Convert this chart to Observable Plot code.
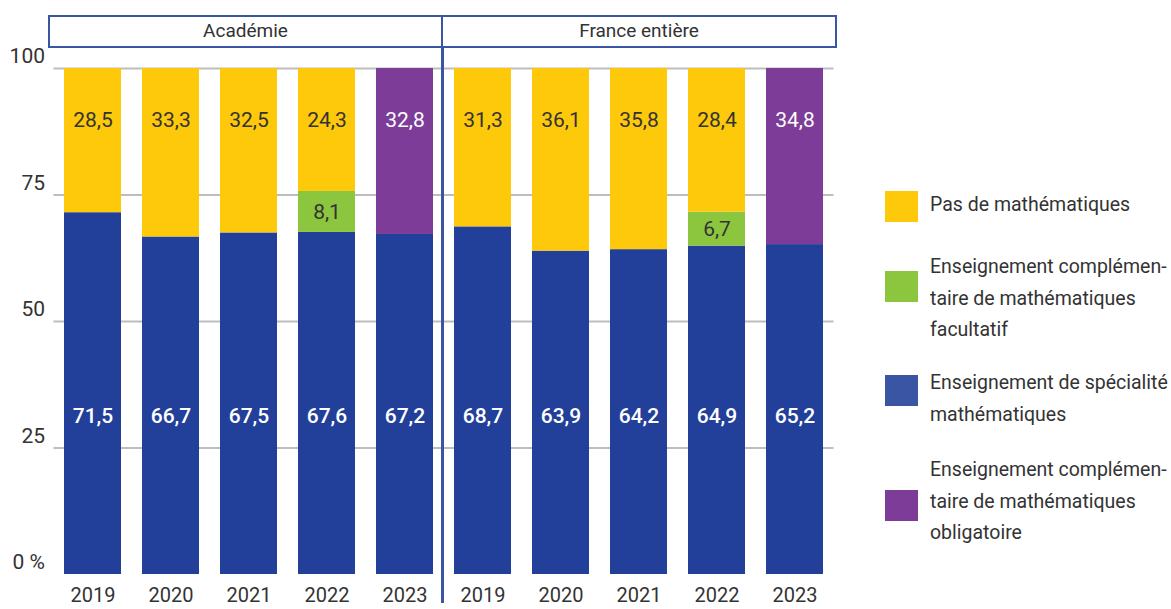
<!DOCTYPE html>
<html>
<head>
<meta charset="utf-8">
<script src="https://cdn.jsdelivr.net/npm/d3@7"></script>
<script src="https://cdn.jsdelivr.net/npm/@observablehq/plot@0.6"></script>
<style>
  html, body { margin: 0; padding: 0; background: #fff; }
  #wrap { position: relative; width: 1171px; height: 609px; overflow: hidden; font-family: Roboto, sans-serif; color: #333; }
  #wrap svg { position: absolute; left: 0; top: 0; }
  .hdr { position: absolute; top: 15px; height: 33px; box-sizing: border-box; border: 2.5px solid #3a55a4; background: #fff; text-align: center; font-size: 19px; line-height: 27px; color: #333; }
  .sep { position: absolute; left: 441px; top: 15px; width: 2.5px; height: 588px; background: #3a55a4; }
  .sw { position: absolute; left: 885px; width: 33px; height: 31px; }
  .lt { position: absolute; left: 930px; font-size: 19.5px; line-height: 31.5px; color: #333; white-space: nowrap; }
</style>
</head>
<body>
<div id="wrap"></div>
<script>
// ---- data ----
const years = ["2019", "2020", "2021", "2022", "2023"];
const zones = ["Académie", "France entière"];
const series = [
  "Enseignement de spécialité mathématiques",
  "Enseignement complémentaire de mathématiques facultatif",
  "Enseignement complémentaire de mathématiques obligatoire",
  "Pas de mathématiques"
];
const colors = ["#22409a", "#8cc63f", "#7d3c98", "#fec80b"];
const legendSwatch = ["#fec80b", "#8cc63f", "#3a55a4", "#7d3c98"];
const legendLabels = [
  "Pas de mathématiques",
  "Enseignement complémen-<br>taire de mathématiques<br>facultatif",
  "Enseignement de spécialité<br>mathématiques",
  "Enseignement complémen-<br>taire de mathématiques<br>obligatoire"
];
const specAcad  = [71.5, 66.7, 67.5, 67.6, 67.2];
const facAcad   = [0, 0, 0, 8.1, 0];
const oblAcad   = [0, 0, 0, 0, 32.8];
const pasAcad   = [28.5, 33.3, 32.5, 24.3, 0];
const specFr    = [68.7, 63.9, 64.2, 64.9, 65.2];
const facFr     = [0, 0, 0, 6.7, 0];
const oblFr     = [0, 0, 0, 0, 34.8];
const pasFr     = [31.3, 36.1, 35.8, 28.4, 0];
const yTicks = [0, 25, 50, 75, 100];

// ---- table ----
const byZone = [
  [specAcad, facAcad, oblAcad, pasAcad],
  [specFr, facFr, oblFr, pasFr]
];
const rows = [];
const keys = [];
zones.forEach((z, zi) => {
  years.forEach((yr, yi) => {
    const key = z + "|" + yr;
    keys.push(key);
    let base = 0;
    byZone[zi].forEach((arr, si) => {
      const v = arr[yi];
      if (v > 0) {
        rows.push({key, zone: z, year: yr, series: series[si], value: v, y1: base, y2: base + v, mid: base + v / 2, si});
      }
      base += v;
    });
  });
});
const fmt = v => v.toFixed(1).replace(".", ",");
const spec = rows.filter(d => d.si === 0);
const mids = rows.filter(d => d.si === 1);
const tops = rows.filter(d => d.si === 2 || d.si === 3);

const FONT = "Roboto, sans-serif";
const chart = Plot.plot({
  width: 1171,
  height: 609,
  marginLeft: 53.5,
  marginRight: 337.5,
  marginTop: 68,
  marginBottom: 35,
  style: {fontFamily: FONT, fontSize: "20px", color: "#333", background: "transparent"},
  x: {type: "band", domain: keys, paddingInner: 0.27, paddingOuter: 0.135, label: null},
  y: {domain: [0, 100], label: null},
  color: {domain: series, range: colors},
  marks: [
    Plot.ruleY(yTicks.filter(t => t > 0), {stroke: "#bdbdbd", strokeWidth: 2}),
    Plot.rectY(rows, {x: "key", y1: "y1", y2: "y2", fill: "series"}),
    Plot.text(spec, {x: "key", y: 0, text: d => fmt(d.value), dy: -158, fill: "white", fontSize: 21, fontWeight: 500}),
    Plot.text(mids, {x: "key", y: "mid", text: d => fmt(d.value), fill: "#333", fontSize: 21}),
    Plot.text(tops, {x: "key", y: "y2", text: d => fmt(d.value), dy: 52, fill: d => d.si === 2 ? "white" : "#333", fontWeight: d => d.si === 2 ? 500 : 400, fontSize: 21}),
    Plot.axisY({ticks: yTicks, tickSize: 0, tickPadding: 9, dy: -12, fontSize: 21, tickFormat: d => d === 0 ? "0 %" : String(d), label: null}),
    Plot.axisX({tickSize: 0, tickPadding: 13, fontSize: 20, tickFormat: d => d.split("|")[1], label: null})
  ]
});

const wrap = document.getElementById("wrap");
wrap.appendChild(chart);

// separator and headers
const sep = document.createElement("div");
sep.className = "sep";
wrap.appendChild(sep);
const hdrPos = [[48, 395], [441, 396]];
zones.forEach((z, i) => {
  const d = document.createElement("div");
  d.className = "hdr";
  d.style.left = hdrPos[i][0] + "px";
  d.style.width = hdrPos[i][1] + "px";
  d.textContent = z;
  wrap.appendChild(d);
});

// legend
const swTop = [191, 271, 375, 490];
const txtTop = [189, 251, 367, 454];
legendLabels.forEach((l, i) => {
  const s = document.createElement("div");
  s.className = "sw";
  s.style.top = swTop[i] + "px";
  s.style.background = legendSwatch[i];
  wrap.appendChild(s);
  const t = document.createElement("div");
  t.className = "lt";
  t.style.top = txtTop[i] + "px";
  t.innerHTML = l;
  wrap.appendChild(t);
});
</script>
</body>
</html>
